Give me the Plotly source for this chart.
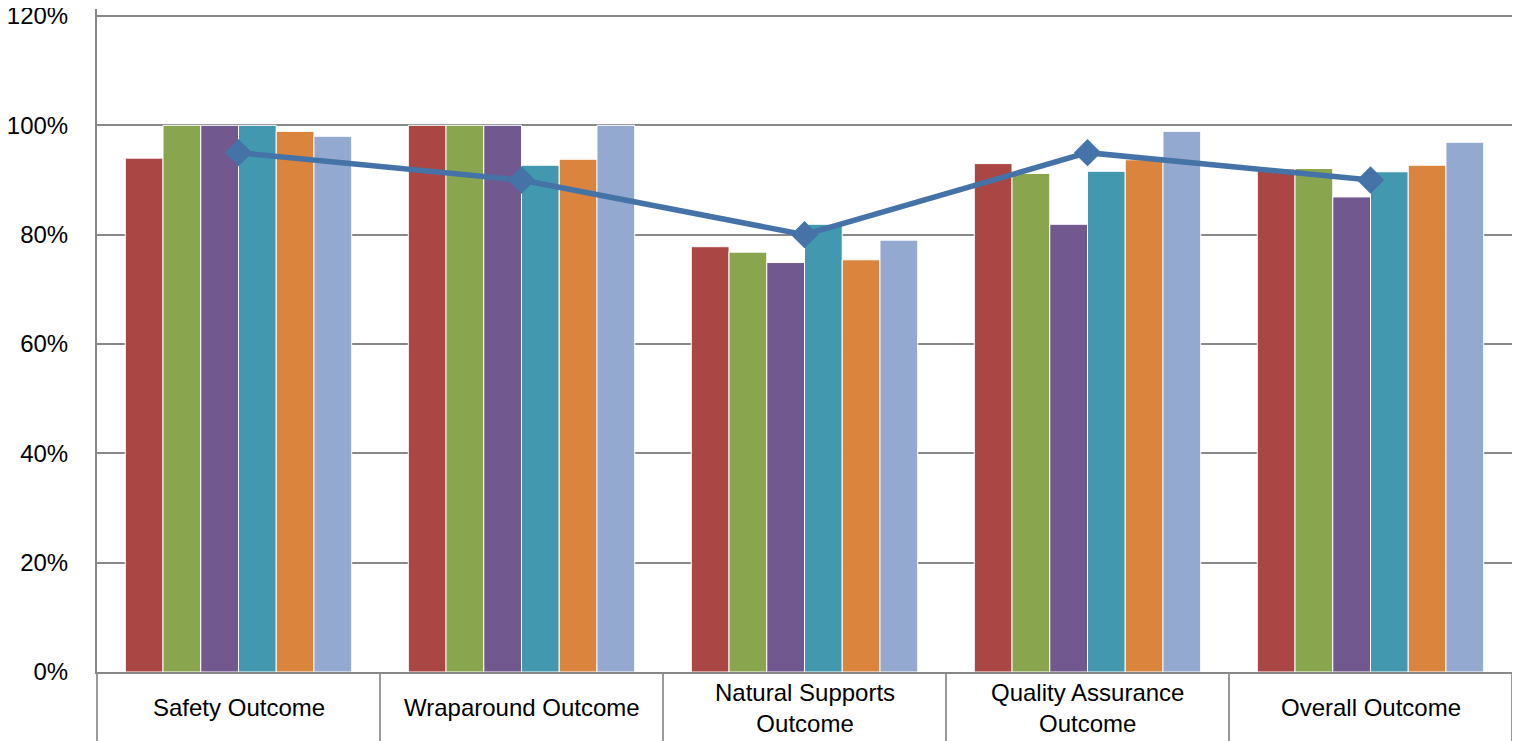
import plotly.graph_objects as go

categories = ["Safety Outcome", "Wraparound Outcome", "Natural Supports<br>Outcome",
              "Quality Assurance<br>Outcome", "Overall Outcome"]
series_names = ["Series 1", "Series 2", "Series 3", "Series 4", "Series 5", "Series 6"]
series_values = [
    [0.94, 1.00, 0.778, 0.93, 0.92],
    [1.00, 1.00, 0.768, 0.912, 0.921],
    [1.00, 1.00, 0.749, 0.819, 0.869],
    [1.00, 0.927, 0.819, 0.916, 0.915],
    [0.989, 0.938, 0.754, 0.937, 0.927],
    [0.98, 1.00, 0.79, 0.989, 0.969],
]
series_colors = ["#AA4643", "#89A54E", "#71588F", "#4198AF", "#DB843D", "#93A9CF"]
target_name = "Target"
target_values = [0.95, 0.90, 0.80, 0.95, 0.90]
target_color = "#4572A7"
y_ticks = [0, 0.2, 0.4, 0.6, 0.8, 1.0, 1.2]

FONT = "Liberation Sans"
FS = 24

fig = go.Figure()
for name, vals, col in zip(series_names, series_values, series_colors):
    fig.add_trace(go.Bar(x=categories, y=vals, name=name,
                         marker=dict(color=col, line=dict(color="white", width=1))))
fig.add_trace(go.Scatter(x=categories, y=target_values, name=target_name, mode="lines+markers",
                         line=dict(color=target_color, width=5.5),
                         marker=dict(symbol="diamond", size=21, color=target_color)))

# category labels, vertically centred in the boxes under the axis
for c in categories:
    fig.add_annotation(x=c, xref="x", y=-0.054, yref="paper", text=c,
                       showarrow=False, yanchor="middle", xanchor="center",
                       font=dict(family=FONT, size=FS, color="black"))

fig.update_layout(
    width=1520, height=741,
    margin=dict(l=89, r=16, t=1, b=77),
    paper_bgcolor="white", plot_bgcolor="white",
    barmode="group", bargap=0.2, bargroupgap=0,
    showlegend=False,
    font=dict(family=FONT, size=FS, color="black"),
)
fig.update_xaxes(
    automargin=False,
    showline=True, linecolor="#888888", linewidth=2,
    tickson="boundaries", ticks="outside", ticklen=90, tickcolor="#999999", tickwidth=2,
    showgrid=False, showticklabels=False,
)
fig.update_yaxes(
    automargin=False,
    range=[0, 1.2128], tickvals=y_ticks, tickformat=".0%",
    showline=True, linecolor="#888888", linewidth=2,
    showgrid=True, gridcolor="#888888", gridwidth=2,
    zeroline=False, ticks="", ticklabelstandoff=22, ticklabeloverflow="allow",
    tickfont=dict(size=FS, family=FONT),
)
fig.write_html("out.html")
